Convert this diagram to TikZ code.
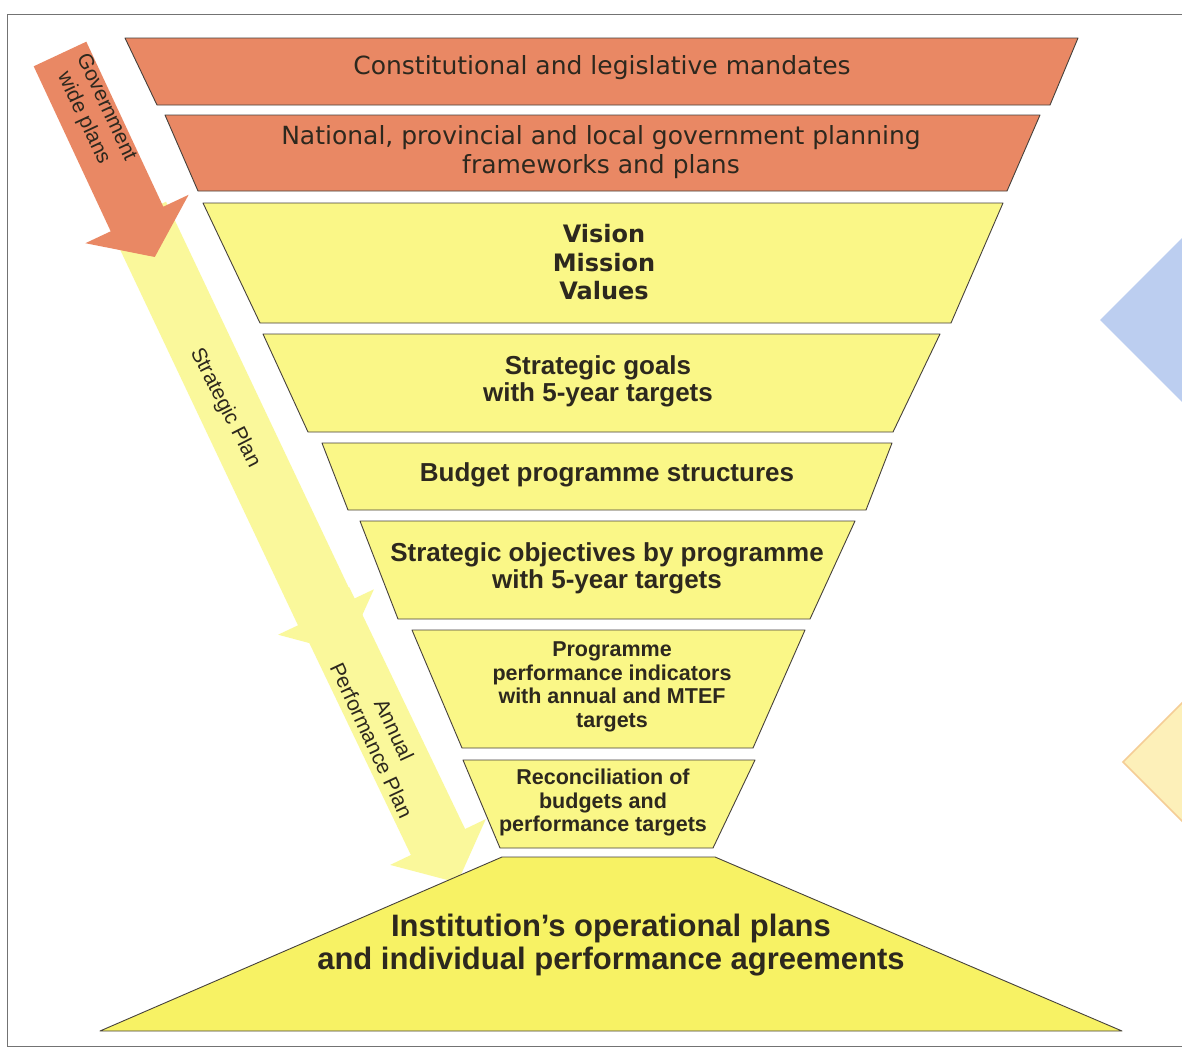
\documentclass[tikz,border=0pt]{standalone}
\usepackage{fontspec}
\setmainfont{Liberation Sans}
\newfontfamily\dejavu{DejaVu Sans}
\definecolor{orangeF}{RGB}{233,136,100}
\definecolor{yellowF}{RGB}{250,247,135}
\definecolor{bottomF}{RGB}{247,242,100}
\definecolor{arrowY}{RGB}{250,248,155}
\definecolor{blueD}{RGB}{188,206,240}
\definecolor{paleY}{RGB}{253,240,185}
\definecolor{paleEdge}{RGB}{245,205,150}
\definecolor{txt}{RGB}{45,40,30}
\definecolor{edge}{RGB}{70,65,60}
\begin{document}
\begin{tikzpicture}[x=1pt,y=-1pt,
  orangebox/.style={fill=orangeF,draw=edge,line width=0.9pt,line join=round},
  yellowbox/.style={fill=yellowF,draw=edge,line width=0.9pt,line join=round},
  bottombox/.style={fill=bottomF,draw=edge,line width=0.9pt,line join=round},
  arrowshape/.style={fill=arrowY,draw=none},
  txtreg/.style={text=txt,align=center,inner sep=0pt,font=\dejavu\fontsize{25}{28.5}\selectfont},
  txtvis/.style={text=txt,align=center,inner sep=0pt,font=\dejavu\bfseries\fontsize{24}{28.5}\selectfont},
  txtbold/.style={text=txt,align=center,inner sep=0pt,font=\bfseries\fontsize{26}{27}\selectfont},
  txtsmall/.style={text=txt,align=center,inner sep=0pt,font=\bfseries\fontsize{21.5}{23.6}\selectfont},
  txtbig/.style={text=txt,align=center,inner sep=0pt,font=\bfseries\fontsize{31}{33}\selectfont},
  arrowlbl/.style={text=txt,align=center,inner sep=0pt,font=\fontsize{21}{25}\selectfont}
]
\useasboundingbox (0,0) rectangle (1182,1052);
\clip (0,0) rectangle (1182,1052);
\fill[white] (0,0) rectangle (1182,1052);

% frame
\draw[black!55,line width=0.8pt] (1182,14) -- (7,14) -- (7,1046) -- (1182,1046);

% right-hand partial diamonds
\fill[blueD] (1100,320) -- (1192,228) -- (1284,320) -- (1192,412) -- cycle;
\filldraw[fill=paleY,draw=paleEdge,line width=1.5pt] (1123,762) -- (1190,695) -- (1257,762) -- (1190,829) -- cycle;

% left arrows
% Strategic Plan arrow
\fill[arrowshape] (166.0,201.7) -- (354.0,598.7) -- (373.9,589.3) -- (345.3,652.7)
  -- (278.1,634.7) -- (298.0,625.3) -- (110.0,228.3) -- cycle;
% Annual Performance Plan arrow
\fill[arrowshape] (349.1,587.0) -- (465.1,829.0) -- (485.8,819.1) -- (457.4,882.6)
  -- (390.2,864.9) -- (410.9,855.0) -- (294.9,613.0) -- cycle;
% Government wide plans arrow
\fill[orangeF] (86.3,41.7) -- (163.3,206.7) -- (188.6,194.8) -- (154.8,257)
  -- (85.4,243.2) -- (110.7,231.3) -- (33.7,66.3) -- cycle;

\node[arrowlbl,rotate=-65] (gwp) at (94.5,113) {Government\\wide plans};
\node[arrowlbl,rotate=-63] (sp) at (225,408) {Strategic Plan};
\node[arrowlbl,rotate=-65] (app) at (383,735) {Annual\\Performance Plan};

% funnel
\filldraw[orangebox] (125,38) -- (1078,38) -- (1050,105) -- (157,105) -- cycle;
\node[txtreg] (t1) at (602,68) {Constitutional and legislative mandates};

\filldraw[orangebox] (165,115) -- (1040,115) -- (1007,191) -- (198,191) -- cycle;
\node[txtreg] (t2) at (601,152) {National, provincial and local government planning\\frameworks and plans};

\filldraw[yellowbox] (203,203) -- (1003,203) -- (951,323) -- (260,323) -- cycle;
\node[txtvis] (t3) at (604,262.5) {Vision\\Mission\\Values};

\filldraw[yellowbox] (263,334) -- (940,334) -- (893,432) -- (308,432) -- cycle;
\node[txtbold] (t4) at (598,381.5) {Strategic goals\\with 5-year targets};

\filldraw[yellowbox] (322,443) -- (892,443) -- (866,510) -- (348,510) -- cycle;
\node[txtbold] (t5) at (607,475) {Budget programme structures};

\filldraw[yellowbox] (360,521) -- (855,521) -- (810,619) -- (398,619) -- cycle;
\node[txtbold] (t6) at (607,568.5) {Strategic objectives by programme\\with 5-year targets};

\filldraw[yellowbox] (412,630) -- (805,630) -- (753,748) -- (462,748) -- cycle;
\node[txtsmall] (t7) at (612,686.7) {Programme\\performance indicators\\with annual and MTEF\\targets};

\filldraw[yellowbox] (463,760) -- (755,760) -- (713,848) -- (500,848) -- cycle;
\node[txtsmall] (t8) at (603,802.7) {Reconciliation of\\budgets and\\performance targets};

\filldraw[bottombox] (502,857) -- (715,857) -- (1122,1031) -- (100,1031) -- cycle;
\node[txtbig] (t9) at (611,945.5) {Institution's operational plans\\and individual performance agreements};
\end{tikzpicture}
\end{document}
